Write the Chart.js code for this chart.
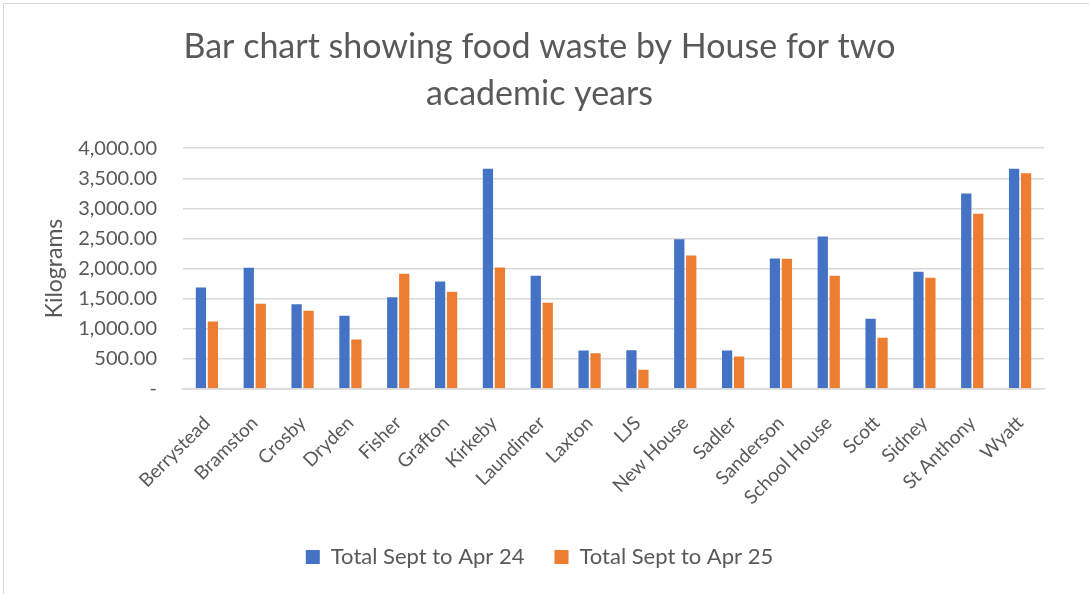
<!DOCTYPE html>
<html>
<head>
<meta charset="utf-8">
<script src="https://cdn.jsdelivr.net/npm/chart.js@4"></script>
<style>
  html, body { margin: 0; padding: 0; background: #fff; overflow: hidden; }
  #frame { position: absolute; left: 3px; top: 3px; width: 1100px; height: 610px; border: 1.5px solid #d9d9d9; }
  #wrap { position: absolute; left: 0; top: 0; width: 1089px; height: 594px; }
</style>
</head>
<body>
<div id="frame"></div>
<div id="wrap"><canvas id="wasteChart" width="1089" height="594"></canvas></div>
<script>
// houses and totals (kg)
const houses = ["Berrystead", "Bramston", "Crosby", "Dryden", "Fisher", "Grafton", "Kirkeby", "Laundimer", "Laxton", "LJS",
  "New House", "Sadler", "Sanderson", "School House", "Scott", "Sidney", "St Anthony", "Wyatt"];
const total24 = [1684, 2011, 1407, 1213, 1524, 1784, 3657, 1878, 637, 643, 2488, 637, 2166, 2532, 1163, 1945, 3247, 3657];
const total25 = [1119, 1413, 1296, 820, 1911, 1612, 2017, 1429, 593, 316, 2216, 537, 2161, 1878, 848, 1845, 2909, 3584];
const seriesNames = ["Total Sept to Apr 24", "Total Sept to Apr 25"];
const titleLines = ["Bar chart showing food waste by House for two", "academic years"];

const grey = "#595959";
const fontFam = "Lato, 'Open Sans', sans-serif";

document.addEventListener("DOMContentLoaded", () => {
  const ctx = document.getElementById("wasteChart").getContext("2d");

  window.wasteChart = new Chart(ctx, {
    type: "bar",
    data: {
      labels: houses,
      datasets: [
        { label: seriesNames[0], data: total24, backgroundColor: "#4472c4", categoryPercentage: 0.5, barPercentage: 0.86 },
        { label: seriesNames[1], data: total25, backgroundColor: "#ed7d31", categoryPercentage: 0.5, barPercentage: 0.86 }
      ]
    },
    options: {
      responsive: false,
      animation: false,
      layout: { padding: { left: 35, right: 45, top: 4, bottom: 16 } },
      plugins: {
        title: {
          display: true,
          text: titleLines,
          color: grey,
          font: { family: fontFam, size: 34, weight: "normal", lineHeight: 1.4 },
          padding: { top: 19, bottom: 30 }
        },
        legend: {
          position: "bottom",
          labels: {
            color: grey,
            font: { family: fontFam, size: 22 },
            boxWidth: 14, boxHeight: 14,
            padding: 30
          }
        },
        tooltip: { enabled: false }
      },
      scales: {
        x: {
          grid: { display: false },
          border: { color: "#d9d9d9", width: 1.5 },
          afterFit: s => { s.height -= 8; },
          ticks: { color: grey, font: { family: fontFam, size: 19 }, minRotation: 45, maxRotation: 45, padding: 15 }
        },
        y: {
          min: 0, max: 4000,
          border: { display: false },
          grid: { color: "#d9d9d9", lineWidth: 1.5, drawTicks: false },
          afterFit: s => { s.width = 148; },
          ticks: {
            stepSize: 500, color: grey, padding: 26,
            font: { family: fontFam, size: 20 },
            callback: v => v === 0 ? "-" : v.toLocaleString("en-US", { minimumFractionDigits: 2, maximumFractionDigits: 2 })
          },
          title: { display: true, text: "Kilograms", color: grey, font: { family: fontFam, size: 23 }, padding: 6 }
        }
      }
    }
  });
});
</script>
</body>
</html>
